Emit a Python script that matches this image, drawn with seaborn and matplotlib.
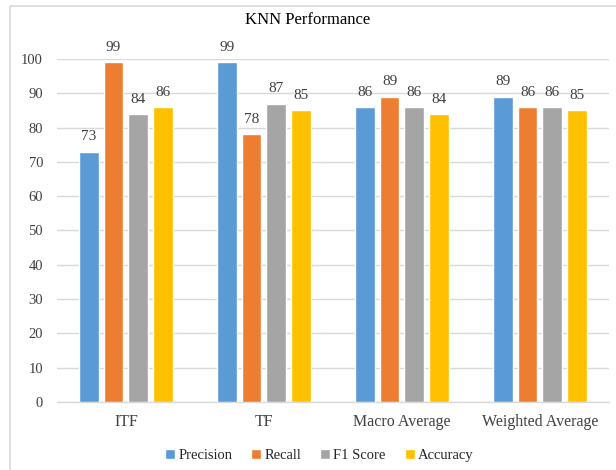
import matplotlib
matplotlib.use("Agg")
import matplotlib.pyplot as plt
import seaborn as sns
import pandas as pd
from matplotlib.patches import Rectangle

# Scores per feature scheme / averaging method
categories = ["ITF", "TF", "Macro Average", "Weighted Average"]
metrics = ["Precision", "Recall", "F1 Score", "Accuracy"]
precision = [73, 99, 86, 89]
recall = [99, 78, 89, 86]
f1_score = [84, 87, 86, 86]
accuracy = [86, 85, 84, 85]
y_ticks = [0, 10, 20, 30, 40, 50, 60, 70, 80, 90, 100]

colors = ["#5B9BD5", "#ED7D31", "#A5A5A5", "#FFC000"]

rows = []
for series_name, vals in zip(metrics, [precision, recall, f1_score, accuracy]):
    for cat, v in zip(categories, vals):
        rows.append({"Category": cat, "Metric": series_name, "Score": v})
df = pd.DataFrame(rows)

sns.set_theme(style="white")
plt.rcParams["font.family"] = ["Liberation Serif", "DejaVu Serif"]

fig = plt.figure(figsize=(6.16, 4.70), dpi=100)
ax = fig.add_axes([0.0925, 0.1447, 0.8961, 0.7298])

sns.barplot(data=df, x="Category", y="Score", hue="Metric", order=categories,
            hue_order=metrics, palette=colors, width=0.72, gap=0.2,
            saturation=1, ax=ax, zorder=3, legend=True)

ax.set_ylim(0, 100)
ax.set_yticks(y_ticks)
ax.set_xlim(-0.5, len(categories) - 0.5)
ax.yaxis.grid(True, color="#D9D9D9", linewidth=1.0, zorder=0)
ax.xaxis.grid(False)
for side in ["top", "right", "left"]:
    ax.spines[side].set_visible(False)
ax.spines["bottom"].set_color("#D9D9D9")
ax.spines["bottom"].set_linewidth(1.0)
ax.tick_params(axis="both", length=0, colors="#404040")
ax.tick_params(axis="x", pad=9, labelsize=11.5)
ax.tick_params(axis="y", pad=10, labelsize=10.5)
ax.set_xlabel("")
ax.set_ylabel("")

for container in ax.containers:
    ax.bar_label(container, fmt="%d", padding=6, fontsize=11, color="#404040",
                 clip_on=False)

handles, labels = ax.get_legend_handles_labels()
ax.legend(handles, labels, loc="center", bbox_to_anchor=(0.475, -0.155),
          ncol=4, frameon=False, fontsize=10.5, handlelength=0.7,
          handleheight=0.7, handletextpad=0.2, columnspacing=1.3)

fig.text(0.50, 0.957, "KNN Performance", ha="center", va="center",
         fontsize=12, color="#000000")

# outer chart frame
fig.patches.append(Rectangle((10 / 616, -0.05), 1.0, 0.05 + (1 - 6 / 470),
                             transform=fig.transFigure, fill=False,
                             edgecolor="#D9D9D9", linewidth=1.2))

fig.savefig("out.png", dpi=100)
